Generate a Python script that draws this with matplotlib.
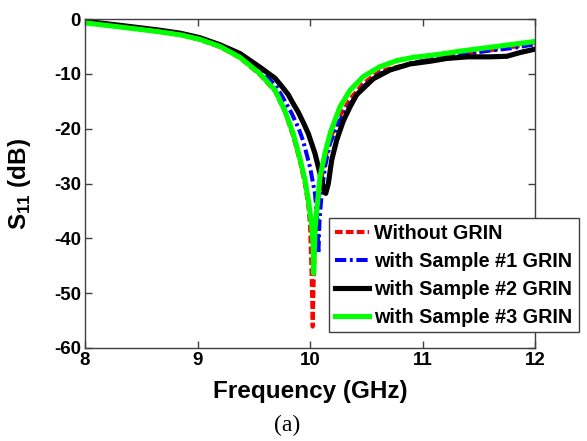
import matplotlib
matplotlib.use("Agg")
import matplotlib.pyplot as plt

# Measured reflection coefficient S11 (dB) versus frequency (GHz)
freq_none = [8.00, 8.33, 8.65, 8.85, 9.02, 9.20, 9.378, 9.556, 9.69, 9.778, 9.852,
             9.911, 9.956, 9.985, 10.00, 10.012, 10.02, 10.024, 10.028, 10.036, 10.05,
             10.07, 10.09, 10.13, 10.18, 10.27, 10.36, 10.47, 10.62, 10.92, 11.20,
             11.50, 11.80, 12.00]
s11_none = [-0.4, -1.4, -2.3, -2.9, -3.8, -5.1, -7.1, -10.2, -13.2, -17.0, -21.5,
            -26.0, -30.2, -34.0, -37.5, -45.0, -52.0, -56.1, -52.0, -45.0, -38.0,
            -33.5, -30.5, -26.0, -21.8, -17.5, -14.5, -11.8, -9.5, -8.0, -6.8,
            -6.0, -5.1, -4.4]

freq_s1 = [8.00, 8.33, 8.65, 8.85, 9.02, 9.20, 9.378, 9.556, 9.689, 9.75, 9.837,
           9.90, 9.94, 10.00, 10.044, 10.066, 10.074, 10.085, 10.104, 10.133, 10.178,
           10.252, 10.34, 10.474, 10.62, 10.77, 10.92, 11.20, 11.50, 11.80, 12.00]
s11_s1 = [-0.4, -1.3, -2.1, -2.8, -3.6, -4.9, -6.7, -9.5, -12.0, -14.0, -17.2,
          -20.0, -22.3, -27.0, -31.8, -36.7, -42.8, -36.5, -31.8, -27.0, -22.7,
          -19.0, -16.0, -12.3, -10.0, -8.9, -8.0, -6.9, -6.0, -5.3, -4.6]

freq_s2 = [8.00, 8.33, 8.65, 8.85, 9.02, 9.20, 9.378, 9.556, 9.689, 9.75, 9.807,
           9.85, 9.896, 9.95, 9.985, 10.044, 10.089, 10.127, 10.14, 10.163, 10.193,
           10.237, 10.296, 10.356, 10.415, 10.563, 10.711, 10.889, 11.07, 11.215,
           11.40, 11.60, 11.75, 11.87, 12.00]
s11_s2 = [-0.4, -1.2, -2.0, -2.6, -3.4, -4.7, -6.3, -8.8, -10.8, -12.3, -13.8,
          -15.4, -17.0, -19.3, -20.9, -24.5, -28.2, -31.5, -31.8, -30.0, -25.7,
          -22.1, -18.6, -16.0, -13.8, -10.9, -9.3, -8.2, -7.7, -7.2,
          -6.9, -6.9, -6.8, -6.1, -5.5]

freq_s3 = [8.00, 8.33, 8.65, 8.85, 9.02, 9.20, 9.378, 9.556, 9.69, 9.778, 9.852,
           9.911, 9.956, 9.985, 10.015, 10.029, 10.032, 10.045, 10.06, 10.089, 10.133,
           10.185, 10.267, 10.356, 10.474, 10.622, 10.77, 10.918, 11.126, 11.36,
           11.66, 12.00]
s11_s3 = [-0.7, -1.5, -2.3, -2.9, -3.7, -5.0, -7.0, -10.0, -13.0, -16.8, -21.0,
          -25.5, -29.4, -33.0, -37.5, -41.5, -46.4, -38.0, -34.9, -28.8, -24.5,
          -20.5, -16.0, -13.0, -10.5, -8.7, -7.6, -7.0, -6.5, -5.8,
          -5.0, -4.1]

labels = ["Without GRIN", "with Sample #1 GRIN", "with Sample #2 GRIN", "with Sample #3 GRIN"]
x_ticks = [8, 9, 10, 11, 12]
y_ticks = [-60, -50, -40, -30, -20, -10, 0]

plt.rcParams["font.family"] = ["Liberation Sans", "DejaVu Sans"]
plt.rcParams["font.weight"] = "bold"
plt.rcParams["axes.unicode_minus"] = False
plt.rcParams["mathtext.fontset"] = "custom"
plt.rcParams["mathtext.rm"] = "Liberation Sans:bold"
plt.rcParams["mathtext.bf"] = "Liberation Sans:bold"

fig = plt.figure(figsize=(5.87, 4.41), dpi=100)
ax = fig.add_axes([85 / 587, 1 - 348 / 441, 450 / 587, 329 / 441])

ax.plot(freq_none, s11_none, color="#ff0000", ls=(0, (1.9, 0.8)), lw=2.9,
        label=labels[0], solid_joinstyle="round")
ax.plot(freq_s1, s11_s1, color="#0000ff", ls=(0, (2.8, 0.9, 0.7, 0.9)), lw=2.9,
        label=labels[1])
ax.plot(freq_s2, s11_s2, color="#000000", ls="-", lw=3.7, label=labels[2],
        solid_joinstyle="round")
ax.plot(freq_s3, s11_s3, color="#00ff00", ls="-", lw=3.7, label=labels[3],
        solid_joinstyle="round")

ax.set_xlim(8, 12)
ax.set_ylim(-60, 0)
ax.set_xticks(x_ticks)
ax.set_yticks(y_ticks)
ax.tick_params(direction="in", length=5, width=1, top=True, right=True,
               labelsize=13.5, color="#404040", pad=3)
for sp in ax.spines.values():
    sp.set_color("#404040")
    sp.set_linewidth(1.0)

ax.set_xlabel("Frequency (GHz)", fontsize=17.5, fontweight="bold", labelpad=8)
ax.set_ylabel("S$_{11}$ (dB)", fontsize=17.5, fontweight="bold", labelpad=15)

leg = ax.legend(loc="upper left", bbox_to_anchor=(329 / 587, 1 - 218 / 441),
                bbox_transform=fig.transFigure, fontsize=14.2, frameon=True,
                fancybox=False, framealpha=1, edgecolor="#404040",
                handlelength=1.75, handletextpad=0.25, labelspacing=0.45,
                borderpad=0.3, borderaxespad=0)
leg.get_frame().set_linewidth(1.0)
for t in leg.get_texts():
    t.set_fontweight("bold")

fig.text(287 / 587, 1 - 425 / 441, "(a)", fontsize=17, family="Liberation Serif",
         fontweight="normal", ha="center", va="center")

fig.savefig("out.png", dpi=100)
